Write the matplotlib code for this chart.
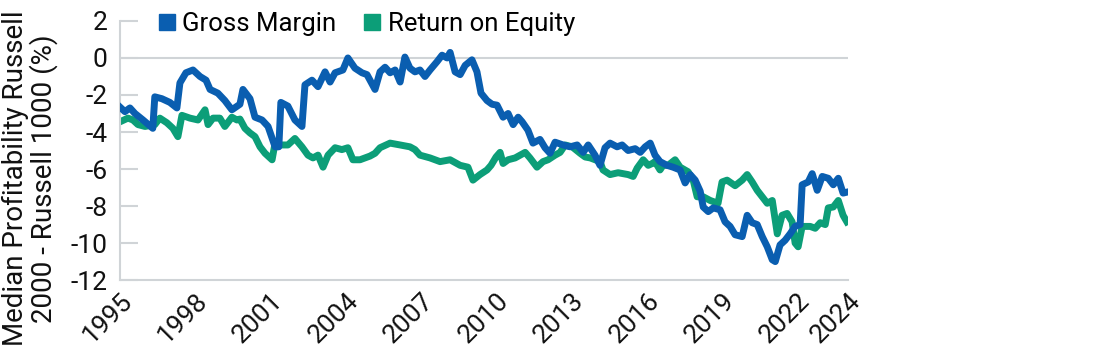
import matplotlib
matplotlib.use("Agg")
import matplotlib.pyplot as plt
from matplotlib.lines import Line2D

plt.rcParams['font.family'] = ['Roboto', 'DejaVu Sans']

# Gross Margin spread (decimal year, %)
gm_year = [1995.00, 1995.20, 1995.40, 1995.60, 1995.92, 1996.31, 1996.39, 1996.67, 1996.99, 1997.27,
           1997.39, 1997.63, 1997.91, 1998.19, 1998.43, 1998.59, 1998.90, 1999.18, 1999.46, 1999.78,
           1999.90, 2000.18, 2000.38, 2000.66, 2000.90, 2001.18, 2001.33, 2001.41, 2001.69, 2001.97,
           2002.25, 2002.37, 2002.65, 2002.89, 2003.17, 2003.37, 2003.57, 2003.88, 2004.08, 2004.36,
           2004.64, 2004.84, 2004.96, 2005.16, 2005.36, 2005.56, 2005.76, 2005.96, 2006.16, 2006.35,
           2006.55, 2006.75, 2006.95, 2007.15, 2007.35, 2007.63, 2007.83, 2008.03, 2008.15, 2008.35,
           2008.55, 2008.75, 2009.02, 2009.22, 2009.38, 2009.62, 2009.82, 2010.02, 2010.26, 2010.46,
           2010.66, 2010.86, 2011.02, 2011.25, 2011.45, 2011.73, 2011.93, 2012.13, 2012.33, 2012.65,
           2012.93, 2013.21, 2013.45, 2013.65, 2013.92, 2014.12, 2014.32, 2014.52, 2014.80, 2015.00,
           2015.24, 2015.52, 2015.72, 2015.92, 2016.12, 2016.31, 2016.51, 2016.79, 2017.03, 2017.31,
           2017.51, 2017.71, 2017.91, 2018.11, 2018.23, 2018.43, 2018.63, 2018.90, 2019.10, 2019.30,
           2019.50, 2019.78, 2019.98, 2020.18, 2020.38, 2020.58, 2020.78, 2020.98, 2021.10, 2021.29,
           2021.49, 2021.69, 2021.89, 2022.09, 2022.17, 2022.41, 2022.57, 2022.77, 2022.97, 2023.21,
           2023.41, 2023.61, 2023.80, 2023.95]
gm_val = [-2.65, -2.9, -2.7, -3.0, -3.35, -3.8, -2.1, -2.2, -2.4, -2.7,
          -1.35, -0.8, -0.65, -1.0, -1.2, -1.7, -1.9, -2.3, -2.8, -2.5,
          -1.7, -2.2, -3.2, -3.35, -3.7, -4.8, -4.8, -2.4, -2.6, -3.35,
          -3.7, -1.45, -1.2, -1.55, -0.75, -1.3, -0.8, -0.65, 0.0, -0.55,
          -0.8, -0.9, -1.2, -1.7, -0.75, -0.5, -0.8, -0.65, -1.3, 0.05,
          -0.55, -0.75, -0.65, -1.0, -0.65, -0.2, 0.15, 0.0, 0.3, -0.75,
          -0.9, -0.4, -0.1, -0.75, -1.9, -2.3, -2.5, -2.55, -3.2, -3.0,
          -3.6, -3.2, -3.45, -3.9, -4.6, -4.4, -4.85, -5.15, -4.55, -4.7,
          -4.8, -4.7, -5.1, -4.7, -5.25, -5.8, -4.85, -4.6, -4.8, -4.7,
          -5.0, -4.9, -5.1, -4.8, -4.6, -5.25, -5.6, -5.8, -5.9, -6.05,
          -6.75, -6.3, -6.6, -7.2, -8.05, -8.3, -8.1, -8.2, -8.85, -9.1,
          -9.55, -9.65, -8.5, -8.9, -9.0, -9.65, -10.2, -10.9, -11.0, -10.1,
          -9.85, -9.5, -9.1, -9.0, -6.85, -6.7, -6.25, -7.15, -6.4, -6.5,
          -6.85, -6.5, -7.3, -7.25]

# Return on Equity spread (decimal year, %)
roe_year = [1995.00, 1995.32, 1995.52, 1995.72, 1996.00, 1996.39, 1996.59, 1996.87, 1997.11, 1997.31,
            1997.47, 1997.79, 1998.11, 1998.39, 1998.51, 1998.71, 1998.98, 1999.18, 1999.46, 1999.66,
            1999.78, 1999.98, 2000.18, 2000.38, 2000.58, 2000.78, 2001.06, 2001.18, 2001.45, 2001.69,
            2001.97, 2002.25, 2002.49, 2002.69, 2002.89, 2003.09, 2003.29, 2003.57, 2003.84, 2004.08,
            2004.28, 2004.56, 2004.96, 2005.16, 2005.36, 2005.76, 2006.16, 2006.55, 2006.75, 2006.95,
            2007.35, 2007.75, 2008.15, 2008.55, 2008.86, 2009.06, 2009.34, 2009.62, 2009.78, 2009.98,
            2010.14, 2010.26, 2010.46, 2010.74, 2010.94, 2011.14, 2011.33, 2011.61, 2011.85, 2012.05,
            2012.33, 2012.53, 2012.73, 2013.01, 2013.33, 2013.53, 2013.73, 2014.12, 2014.24, 2014.52,
            2014.84, 2015.24, 2015.44, 2015.60, 2015.84, 2016.04, 2016.20, 2016.31, 2016.51, 2016.63,
            2016.83, 2017.11, 2017.31, 2017.63, 2017.83, 2017.99, 2018.23, 2018.51, 2018.82, 2018.98,
            2019.18, 2019.50, 2019.78, 2019.98, 2020.18, 2020.38, 2020.58, 2020.78, 2020.98, 2021.18,
            2021.37, 2021.57, 2021.77, 2021.89, 2022.01, 2022.17, 2022.49, 2022.69, 2022.89, 2023.09,
            2023.21, 2023.41, 2023.61, 2023.80, 2023.95]
roe_val = [-3.45, -3.25, -3.35, -3.6, -3.7, -3.6, -3.25, -3.5, -3.8, -4.25,
           -3.1, -3.25, -3.35, -2.8, -3.6, -3.25, -3.25, -3.7, -3.2, -3.35,
           -3.3, -3.8, -4.05, -4.25, -4.8, -5.15, -5.5, -4.6, -4.7, -4.7,
           -4.35, -4.8, -5.25, -5.4, -5.25, -5.9, -5.25, -4.85, -4.95, -4.85,
           -5.5, -5.5, -5.3, -5.15, -4.85, -4.6, -4.7, -4.8, -4.95, -5.25,
           -5.4, -5.6, -5.5, -5.8, -5.9, -6.6, -6.3, -6.05, -5.8, -5.35,
           -5.1, -5.7, -5.5, -5.4, -5.25, -5.1, -5.4, -5.9, -5.6, -5.5,
           -5.25, -5.1, -4.7, -4.8, -5.15, -5.35, -5.4, -5.6, -6.05, -6.3,
           -6.2, -6.3, -6.4, -5.95, -5.5, -5.8, -5.7, -5.6, -6.05, -5.8,
           -5.8, -5.5, -5.9, -6.15, -6.6, -7.5, -7.5, -7.7, -7.85, -6.7,
           -6.6, -6.9, -6.6, -6.3, -6.7, -7.15, -7.5, -7.85, -7.7, -9.5,
           -8.5, -8.4, -8.85, -10.0, -10.2, -9.1, -9.1, -9.2, -8.9, -9.0,
           -8.1, -8.05, -7.7, -8.5, -8.85]

tick_years = [1995, 1998, 2001, 2004, 2007, 2010, 2013, 2016, 2019, 2022, 2024]
y_ticks = [2, 0, -2, -4, -6, -8, -10, -12]

blue = '#0a5eb0'
green = '#0c9e78'
grey = '#d0d4d7'

fig = plt.figure(figsize=(11, 3.55), dpi=100)
ax = fig.add_axes([0.109, 0.211, 0.662, 0.730])

ax.plot(gm_year, gm_val, color=blue, lw=5, solid_joinstyle='round', zorder=3)
ax.plot(roe_year, roe_val, color=green, lw=5, solid_joinstyle='round', zorder=2)

ax.set_xlim(1995, 2024)
ax.set_ylim(-12, 2)
ax.axhline(0, color=grey, lw=1.5, zorder=1)

for s in ['top', 'right']:
    ax.spines[s].set_visible(False)
for s in ['left', 'bottom']:
    ax.spines[s].set_color(grey)
    ax.spines[s].set_linewidth(1.5)

ax.set_yticks(y_ticks)
ax.set_yticklabels([str(v) for v in y_ticks])
ax.tick_params(axis='y', direction='in', length=13, width=1.5, color=grey,
               labelsize=19, pad=9, labelcolor='#111111')
ax.set_xticks(tick_years)
ax.set_xticklabels([str(y) for y in tick_years], rotation=45, ha='right',
                   rotation_mode='anchor')
ax.tick_params(axis='x', length=0, labelsize=19, pad=6, labelcolor='#111111')

# y label sits a bit lower than the axes centre in the reference
fig.text(0.027, 0.497, 'Median Profitability Russell\n2000 - Russell 1000 (%)',
         rotation=90, ha='center', va='center', fontsize=20, color='#111111',
         linespacing=1.0)

handles = [Line2D([], [], marker='s', ls='none', color=blue, markersize=11),
           Line2D([], [], marker='s', ls='none', color=green, markersize=11)]
ax.legend(handles, ['Gross Margin', 'Return on Equity'], ncol=2, frameon=False,
          loc='upper left', bbox_to_anchor=(0.036, 1.075), fontsize=18.5,
          handletextpad=0.2, columnspacing=1.0, handlelength=0.8,
          borderaxespad=0)

fig.savefig('out.png', dpi=100, facecolor='white')
